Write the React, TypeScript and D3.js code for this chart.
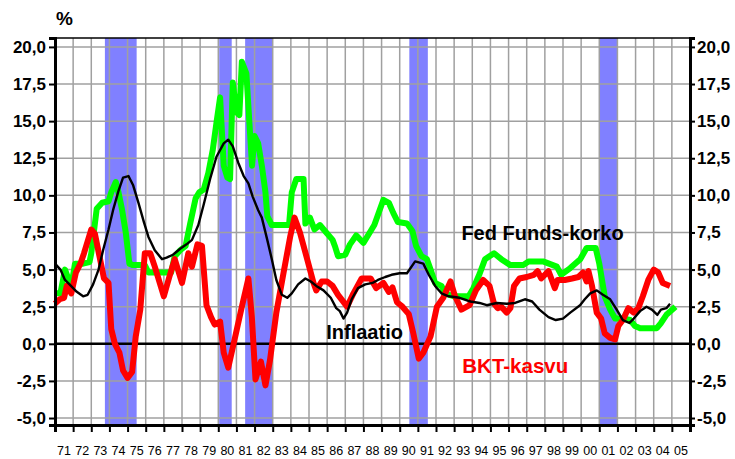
import React, { useEffect, useRef } from "react";
import * as d3 from "d3";

// [vuosi, %] pisteet luettu kuvasta
const bktKasvu: [number, number][] = [
  [71.0, 2.7], [71.25, 3.0], [71.5, 3.1], [71.65, 3.9], [71.9, 3.4], [72.15, 4.8], [72.4, 5.4], [72.6, 6.1],
  [73.0, 7.7], [73.2, 7.4], [73.45, 5.9], [73.7, 4.4], [73.95, 4.1], [74.1, 1.0], [74.3, 0.0], [74.55, -0.6],
  [74.75, -1.8], [75.0, -2.3], [75.25, -1.9], [75.45, 0.5], [75.7, 2.3], [75.95, 6.1], [76.25, 6.1], [76.5, 5.2],
  [77.0, 3.2], [77.3, 4.5], [77.6, 5.7], [78.0, 4.1], [78.35, 6.1], [78.55, 5.2], [78.85, 6.7], [79.1, 6.6],
  [79.35, 2.6], [79.6, 1.8], [79.8, 1.3], [80.1, 1.5], [80.3, -0.6], [80.55, -1.6], [80.9, 0.3], [81.3, 2.5],
  [81.66, 4.4], [81.85, 1.8], [82.05, -2.4], [82.35, -1.2], [82.6, -2.8], [82.85, -1.1], [83.2, 2.1], [83.6, 4.8],
  [83.96, 7.2], [84.2, 8.5], [84.5, 7.5], [84.9, 5.7], [85.25, 4.1], [85.4, 3.6], [85.7, 4.2], [86.0, 4.2],
  [86.3, 3.9], [86.6, 3.3], [87.1, 2.5], [87.45, 3.4], [87.9, 4.4], [88.4, 4.4], [88.7, 3.75], [89.1, 4.1],
  [89.4, 3.5], [89.6, 3.8], [89.85, 2.8], [90.15, 2.5], [90.5, 2.0], [90.75, 0.7], [91.05, -1.0], [91.3, -0.6],
  [91.7, 0.5], [92.05, 2.5], [92.4, 3.1], [92.8, 4.2], [93.05, 3.2], [93.4, 2.3], [93.85, 2.6], [94.2, 3.6],
  [94.6, 4.3], [94.95, 3.9], [95.2, 2.7], [95.4, 2.4], [95.6, 2.5], [95.9, 2.1], [96.1, 2.4], [96.3, 3.9],
  [96.6, 4.4], [97.0, 4.5], [97.4, 4.65], [97.6, 4.9], [97.8, 4.4], [98.2, 4.9], [98.55, 3.75], [98.7, 4.3],
  [99.1, 4.3], [99.5, 4.4], [99.85, 4.5], [100.1, 4.8], [100.3, 4.2], [100.4, 4.9], [100.6, 3.9], [100.86, 2.1],
  [101.1, 1.7], [101.3, 0.7], [101.6, 0.4], [101.87, 0.3], [102.05, 1.2], [102.3, 1.6], [102.6, 2.4], [102.9, 2.1],
  [103.15, 2.4], [103.4, 3.2], [103.7, 4.3], [104.0, 5.0], [104.25, 4.8], [104.5, 4.1], [104.7, 4.0], [104.9, 3.9],
];

const fedFunds: [number, number][] = [
  [71.0, 3.4], [71.3, 3.4], [71.55, 5.0], [71.7, 4.5], [71.9, 3.9], [72.1, 5.4], [72.55, 5.4], [72.9, 5.5],
  [73.0, 6.1], [73.3, 9.1], [73.6, 9.5], [73.95, 9.6], [74.1, 10.2], [74.35, 10.9], [74.5, 10.2], [74.7, 9.0],
  [74.9, 7.5], [75.1, 5.4], [75.3, 5.3], [75.95, 5.3], [76.15, 4.8], [77.4, 4.8], [77.6, 5.9], [77.9, 6.3],
  [78.2, 6.6], [78.45, 8.1], [78.75, 9.8], [78.95, 10.2], [79.2, 10.4], [79.45, 11.5], [79.7, 13.1], [79.9, 14.9],
  [80.1, 16.6], [80.3, 12.0], [80.5, 11.2], [80.65, 11.1], [80.8, 17.6], [81.0, 15.6], [81.16, 15.4], [81.3, 19.0],
  [81.55, 18.2], [81.75, 14.2], [81.86, 12.0], [82.0, 14.0], [82.2, 13.5], [82.4, 12.0], [82.6, 10.2], [82.7, 8.6],
  [82.95, 8.0], [83.9, 8.0], [84.05, 10.2], [84.3, 11.1], [84.7, 11.1], [84.8, 8.1], [85.05, 8.5], [85.3, 7.7],
  [85.6, 8.0], [85.95, 7.5], [86.3, 7.0], [86.45, 6.5], [86.6, 5.9], [87.0, 6.0], [87.26, 6.7], [87.6, 7.3],
  [88.0, 6.8], [88.4, 7.6], [88.6, 8.0], [89.1, 9.7], [89.4, 9.5], [89.65, 8.8], [89.9, 8.2], [90.4, 8.1],
  [90.7, 7.6], [90.9, 6.6], [91.2, 5.9], [91.5, 5.7], [91.7, 5.0], [91.95, 4.1], [92.3, 3.9], [92.5, 3.4],
  [92.96, 3.2], [93.8, 3.2], [94.06, 3.75], [94.4, 4.7], [94.7, 5.7], [95.2, 6.1], [95.6, 5.7], [96.1, 5.3],
  [96.8, 5.3], [97.1, 5.55], [97.9, 5.55], [98.66, 5.2], [98.9, 4.65], [99.4, 5.1], [99.95, 5.7], [100.3, 6.45],
  [100.8, 6.45], [101.0, 5.4], [101.15, 4.3], [101.3, 3.2], [101.6, 2.3], [101.87, 1.7], [102.3, 1.7], [102.7, 1.6],
  [102.97, 1.2], [103.25, 1.05], [104.17, 1.05], [104.4, 1.4], [104.7, 1.95], [105.2, 2.5],
];

const inflaatio: [number, number][] = [
  [71.0, 5.4], [71.3, 5.0], [71.55, 4.3], [71.8, 4.0], [72.2, 3.5], [72.55, 3.2], [72.8, 3.3], [73.1, 4.0],
  [73.4, 5.0], [73.65, 6.3], [73.95, 7.7], [74.2, 9.0], [74.5, 10.3], [74.75, 11.2], [75.05, 11.3], [75.3, 10.7],
  [75.6, 9.5], [75.9, 8.2], [76.15, 7.2], [76.5, 6.3], [76.9, 5.7], [77.15, 5.8], [77.5, 6.0], [77.9, 6.4],
  [78.25, 6.7], [78.55, 7.0], [78.9, 8.0], [79.2, 9.4], [79.55, 11.1], [79.9, 12.6], [80.3, 13.5], [80.55, 13.75],
  [80.8, 13.3], [81.1, 12.2], [81.4, 11.3], [81.66, 10.8], [81.9, 9.9], [82.2, 9.0], [82.4, 8.5], [82.7, 7.0],
  [82.95, 5.7], [83.2, 4.3], [83.5, 3.3], [83.8, 3.1], [84.05, 3.4], [84.4, 4.0], [84.8, 4.4], [85.1, 4.2],
  [85.4, 3.9], [85.8, 3.6], [86.2, 3.1], [86.5, 2.4], [86.7, 2.2], [86.9, 1.7], [87.1, 2.1], [87.35, 3.0],
  [87.7, 3.75], [88.1, 4.0], [88.5, 4.1], [88.8, 4.3], [89.2, 4.5], [89.55, 4.65], [90.0, 4.75], [90.4, 4.75],
  [90.85, 5.55], [91.3, 5.4], [91.6, 4.65], [91.95, 3.9], [92.3, 3.4], [92.7, 3.2], [93.3, 3.1], [93.9, 2.85],
  [94.4, 2.75], [94.8, 2.6], [95.35, 2.75], [95.9, 2.7], [96.36, 2.75], [96.9, 3.0], [97.3, 2.85], [97.7, 2.3],
  [98.2, 1.8], [98.6, 1.6], [99.0, 1.7], [99.4, 2.1], [99.94, 2.6], [100.2, 3.0], [100.5, 3.4], [100.86, 3.6],
  [101.2, 3.3], [101.6, 3.0], [101.96, 2.3], [102.3, 1.6], [102.66, 1.4], [102.9, 1.7], [103.25, 2.2], [103.6, 2.5],
  [103.9, 2.3], [104.2, 1.95], [104.4, 2.3], [104.7, 2.4], [104.9, 2.7],
];

// taantumat (vuosi alku, loppu)
const taantumat: [number, number][] = [
  [73.75, 75.5], [80.05, 80.74], [81.48, 82.98], [90.53, 91.55], [101.0, 102.0],
];

const yTicks = [-5, -2.5, 0, 2.5, 5, 7.5, 10, 12.5, 15, 17.5, 20];
const vuodet = d3.range(71, 106);
const vuosiLabels = vuodet.map((v) => String(v % 100).padStart(2, "0"));

const FONT = "'Liberation Sans', Arial, sans-serif";

function Kaavio() {
  const ref = useRef<SVGSVGElement>(null);

  useEffect(() => {
    const svg = d3.select(ref.current);
    svg.selectAll("*").remove();

    const margin = { top: 38, right: 45, bottom: 34, left: 55 };
    const width = 735 - margin.left - margin.right;
    const height = 459 - margin.top - margin.bottom;

    const x = d3.scaleLinear().domain([71, 106]).range([margin.left, margin.left + width]);
    const y = d3.scaleLinear().domain([-5.47, 20.6]).range([margin.top + height, margin.top]);

    const fmt = (d: number) => d.toFixed(1).replace(".", ",");

    // taantumapalkit
    svg.append("g")
      .selectAll("rect")
      .data(taantumat)
      .enter()
      .append("rect")
      .attr("x", (d) => x(d[0]))
      .attr("width", (d) => x(d[1]) - x(d[0]))
      .attr("y", margin.top)
      .attr("height", height)
      .attr("fill", "#8080ff");

    // ruudukko
    const grid = svg.append("g").attr("stroke", "#a0a0a0").attr("stroke-width", 1.5);
    grid.selectAll(".vx")
      .data(vuodet.slice(1))
      .enter()
      .append("line")
      .attr("x1", (d) => x(d))
      .attr("x2", (d) => x(d))
      .attr("y1", margin.top)
      .attr("y2", margin.top + height);
    grid.selectAll(".hy")
      .data(yTicks)
      .enter()
      .append("line")
      .attr("x1", margin.left)
      .attr("x2", margin.left + width)
      .attr("y1", (d) => y(d))
      .attr("y2", (d) => y(d));

    // yläreuna
    svg.append("line")
      .attr("x1", margin.left).attr("x2", margin.left + width)
      .attr("y1", margin.top).attr("y2", margin.top)
      .attr("stroke", "#000").attr("stroke-width", 1.5);

    // nollaviiva
    svg.append("line")
      .attr("x1", margin.left).attr("x2", margin.left + width)
      .attr("y1", y(0)).attr("y2", y(0))
      .attr("stroke", "#000").attr("stroke-width", 2.5);

    const line = d3.line<[number, number]>()
      .x((d) => x(d[0]))
      .y((d) => y(d[1]));

    svg.append("path").datum(fedFunds)
      .attr("d", line).attr("fill", "none")
      .attr("stroke", "#00ff00").attr("stroke-width", 6).attr("stroke-linejoin", "round");
    svg.append("path").datum(bktKasvu)
      .attr("d", line).attr("fill", "none")
      .attr("stroke", "#ff0000").attr("stroke-width", 6).attr("stroke-linejoin", "round");
    svg.append("path").datum(inflaatio)
      .attr("d", line).attr("fill", "none")
      .attr("stroke", "#000").attr("stroke-width", 2.4).attr("stroke-linejoin", "round");

    // akselit
    const yLeft = d3.axisLeft(y).tickValues(yTicks).tickSize(6).tickPadding(3).tickFormat((d) => fmt(+d));
    const gl = svg.append("g").attr("transform", `translate(${margin.left},0)`).call(yLeft);
    const yRight = d3.axisRight(y).tickValues(yTicks).tickSize(5).tickPadding(2).tickFormat((d) => fmt(+d));
    const gr = svg.append("g").attr("transform", `translate(${margin.left + width},0)`).call(yRight);
    const xAxis = d3.axisBottom(x).tickValues(vuodet.concat([106])).tickSize(7).tickFormat(() => "");
    const gx = svg.append("g").attr("transform", `translate(0,${margin.top + height})`).call(xAxis);

    [gl, gr, gx].forEach((g) => {
      g.select(".domain").attr("stroke", "#000").attr("stroke-width", 3);
      g.selectAll(".tick line").attr("stroke", "#000").attr("stroke-width", 2);
    });
    gx.selectAll(".tick").filter((d) => d === 106).remove();
    [gl, gr].forEach((g) => {
      g.selectAll(".tick text")
        .attr("font-family", FONT)
        .attr("font-size", 17)
        .attr("font-weight", "bold")
        .attr("fill", "#000");
    });

    // vuosilabelit
    svg.append("g")
      .selectAll("text")
      .data(vuodet)
      .enter()
      .append("text")
      .attr("x", (d) => x(d + 0.5))
      .attr("y", 455)
      .attr("text-anchor", "middle")
      .attr("font-family", FONT)
      .attr("font-size", 12.5)
      .text((d, i) => vuosiLabels[i]);

    svg.append("text")
      .attr("x", margin.left + 1).attr("y", 25)
      .attr("font-family", FONT).attr("font-size", 19).attr("font-weight", "bold")
      .text("%");

    const notes = [
      { t: "Fed Funds-korko", year: 93.4, v: 7.0, c: "#000", s: 20 },
      { t: "Inflaatio", year: 85.95, v: 0.3, c: "#000", s: 20 },
      { t: "BKT-kasvu", year: 93.45, v: -1.95, c: "#ff0000", s: 20.5 },
    ];
    svg.append("g")
      .selectAll("text")
      .data(notes)
      .enter()
      .append("text")
      .attr("x", (d) => x(d.year))
      .attr("y", (d) => y(d.v))
      .attr("font-family", FONT)
      .attr("font-size", (d) => d.s)
      .attr("font-weight", "bold")
      .attr("fill", (d) => d.c)
      .text((d) => d.t);
  }, []);

  return (
    <svg
      ref={ref}
      width={735}
      height={459}
      style={{ position: "absolute", left: 0, top: 0, background: "#fff" }}
    />
  );
}

export default function App() {
  return <Kaavio />;
}
